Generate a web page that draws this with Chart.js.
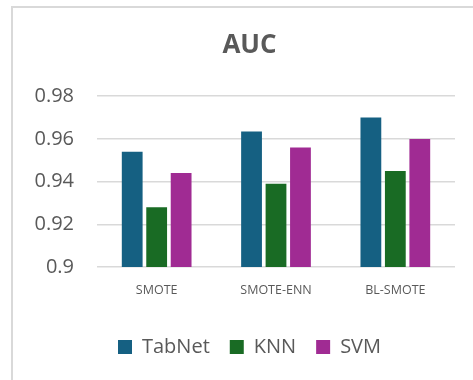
<!DOCTYPE html>
<html>
<head>
<meta charset="utf-8">
<script src="https://cdn.jsdelivr.net/npm/chart.js@4"></script>
<style>
  html, body { margin: 0; padding: 0; background: #fff; overflow: hidden; }
  #frame { position: absolute; left: 11px; top: 6px; width: 520px; height: 420px; border: 2px solid #d9d9d9; }
  #wrap { position: absolute; left: 0; top: 0; width: 473px; height: 380px; }
</style>
</head>
<body>
<div id="frame"></div>
<div id="wrap"><canvas id="chart" width="473" height="380"></canvas></div>
<script>
// Categories and series
const categories = ['SMOTE', 'SMOTE-ENN', 'BL-SMOTE'];
const tabnetAuc = [0.954, 0.9635, 0.970];
const knnAuc = [0.928, 0.939, 0.945];
const svmAuc = [0.944, 0.956, 0.960];
const yTicks = [0.9, 0.92, 0.94, 0.96, 0.98];

const textColor = '#595959';
const fontFamily = '"Open Sans", "Noto Sans", sans-serif';
const tickFontSize = 20;

// widest y label, so mirrored labels can be right-aligned left of the plot
const canvas = document.getElementById('chart');
const mctx = canvas.getContext('2d');
mctx.font = tickFontSize + 'px ' + fontFamily;
const widest = Math.max(...yTicks.map(v => mctx.measureText(String(v)).width));
const yLabelGap = 23;

new Chart(canvas, {
    type: 'bar',
    data: {
        labels: categories,
        datasets: [
            { label: 'TabNet', data: tabnetAuc, backgroundColor: '#156082' },
            { label: 'KNN', data: knnAuc, backgroundColor: '#196b24' },
            { label: 'SVM', data: svmAuc, backgroundColor: '#a02b93' }
        ]
    },
    options: {
        responsive: false,
        animation: false,
        layout: { padding: { left: 44, right: 18, top: 30, bottom: 13 } },
        datasets: { bar: { categoryPercentage: 0.615, barPercentage: 0.85 } },
        scales: {
            y: {
                min: 0.9,
                max: 0.98,
                afterFit: s => { s.width = 53; },
                afterBuildTicks: s => { s.ticks = yTicks.map(v => ({ value: v })); },
                ticks: {
                    mirror: true,
                    crossAlign: 'far',
                    padding: -yLabelGap - widest,
                    color: textColor,
                    font: { family: fontFamily, size: tickFontSize },
                    callback: v => String(Math.round(v * 100) / 100)
                },
                grid: { color: '#d9d9d9', lineWidth: 1.5, drawTicks: false },
                border: { display: false }
            },
            x: {
                afterFit: s => { s.height = 50; },
                ticks: { padding: 16, color: textColor, font: { family: fontFamily, size: 12.5 } },
                grid: { display: false, drawTicks: false },
                border: { display: false }
            }
        },
        plugins: {
            title: {
                display: true,
                text: 'AUC',
                color: textColor,
                font: { family: fontFamily, size: 26, weight: 'bold' },
                padding: { top: 0, bottom: 35 }
            },
            legend: {
                position: 'bottom',
                labels: {
                    color: textColor,
                    font: { family: fontFamily, size: 20 },
                    boxWidth: 14,
                    boxHeight: 14,
                    padding: 20
                }
            },
            tooltip: { enabled: false }
        }
    }
});
</script>
</body>
</html>
